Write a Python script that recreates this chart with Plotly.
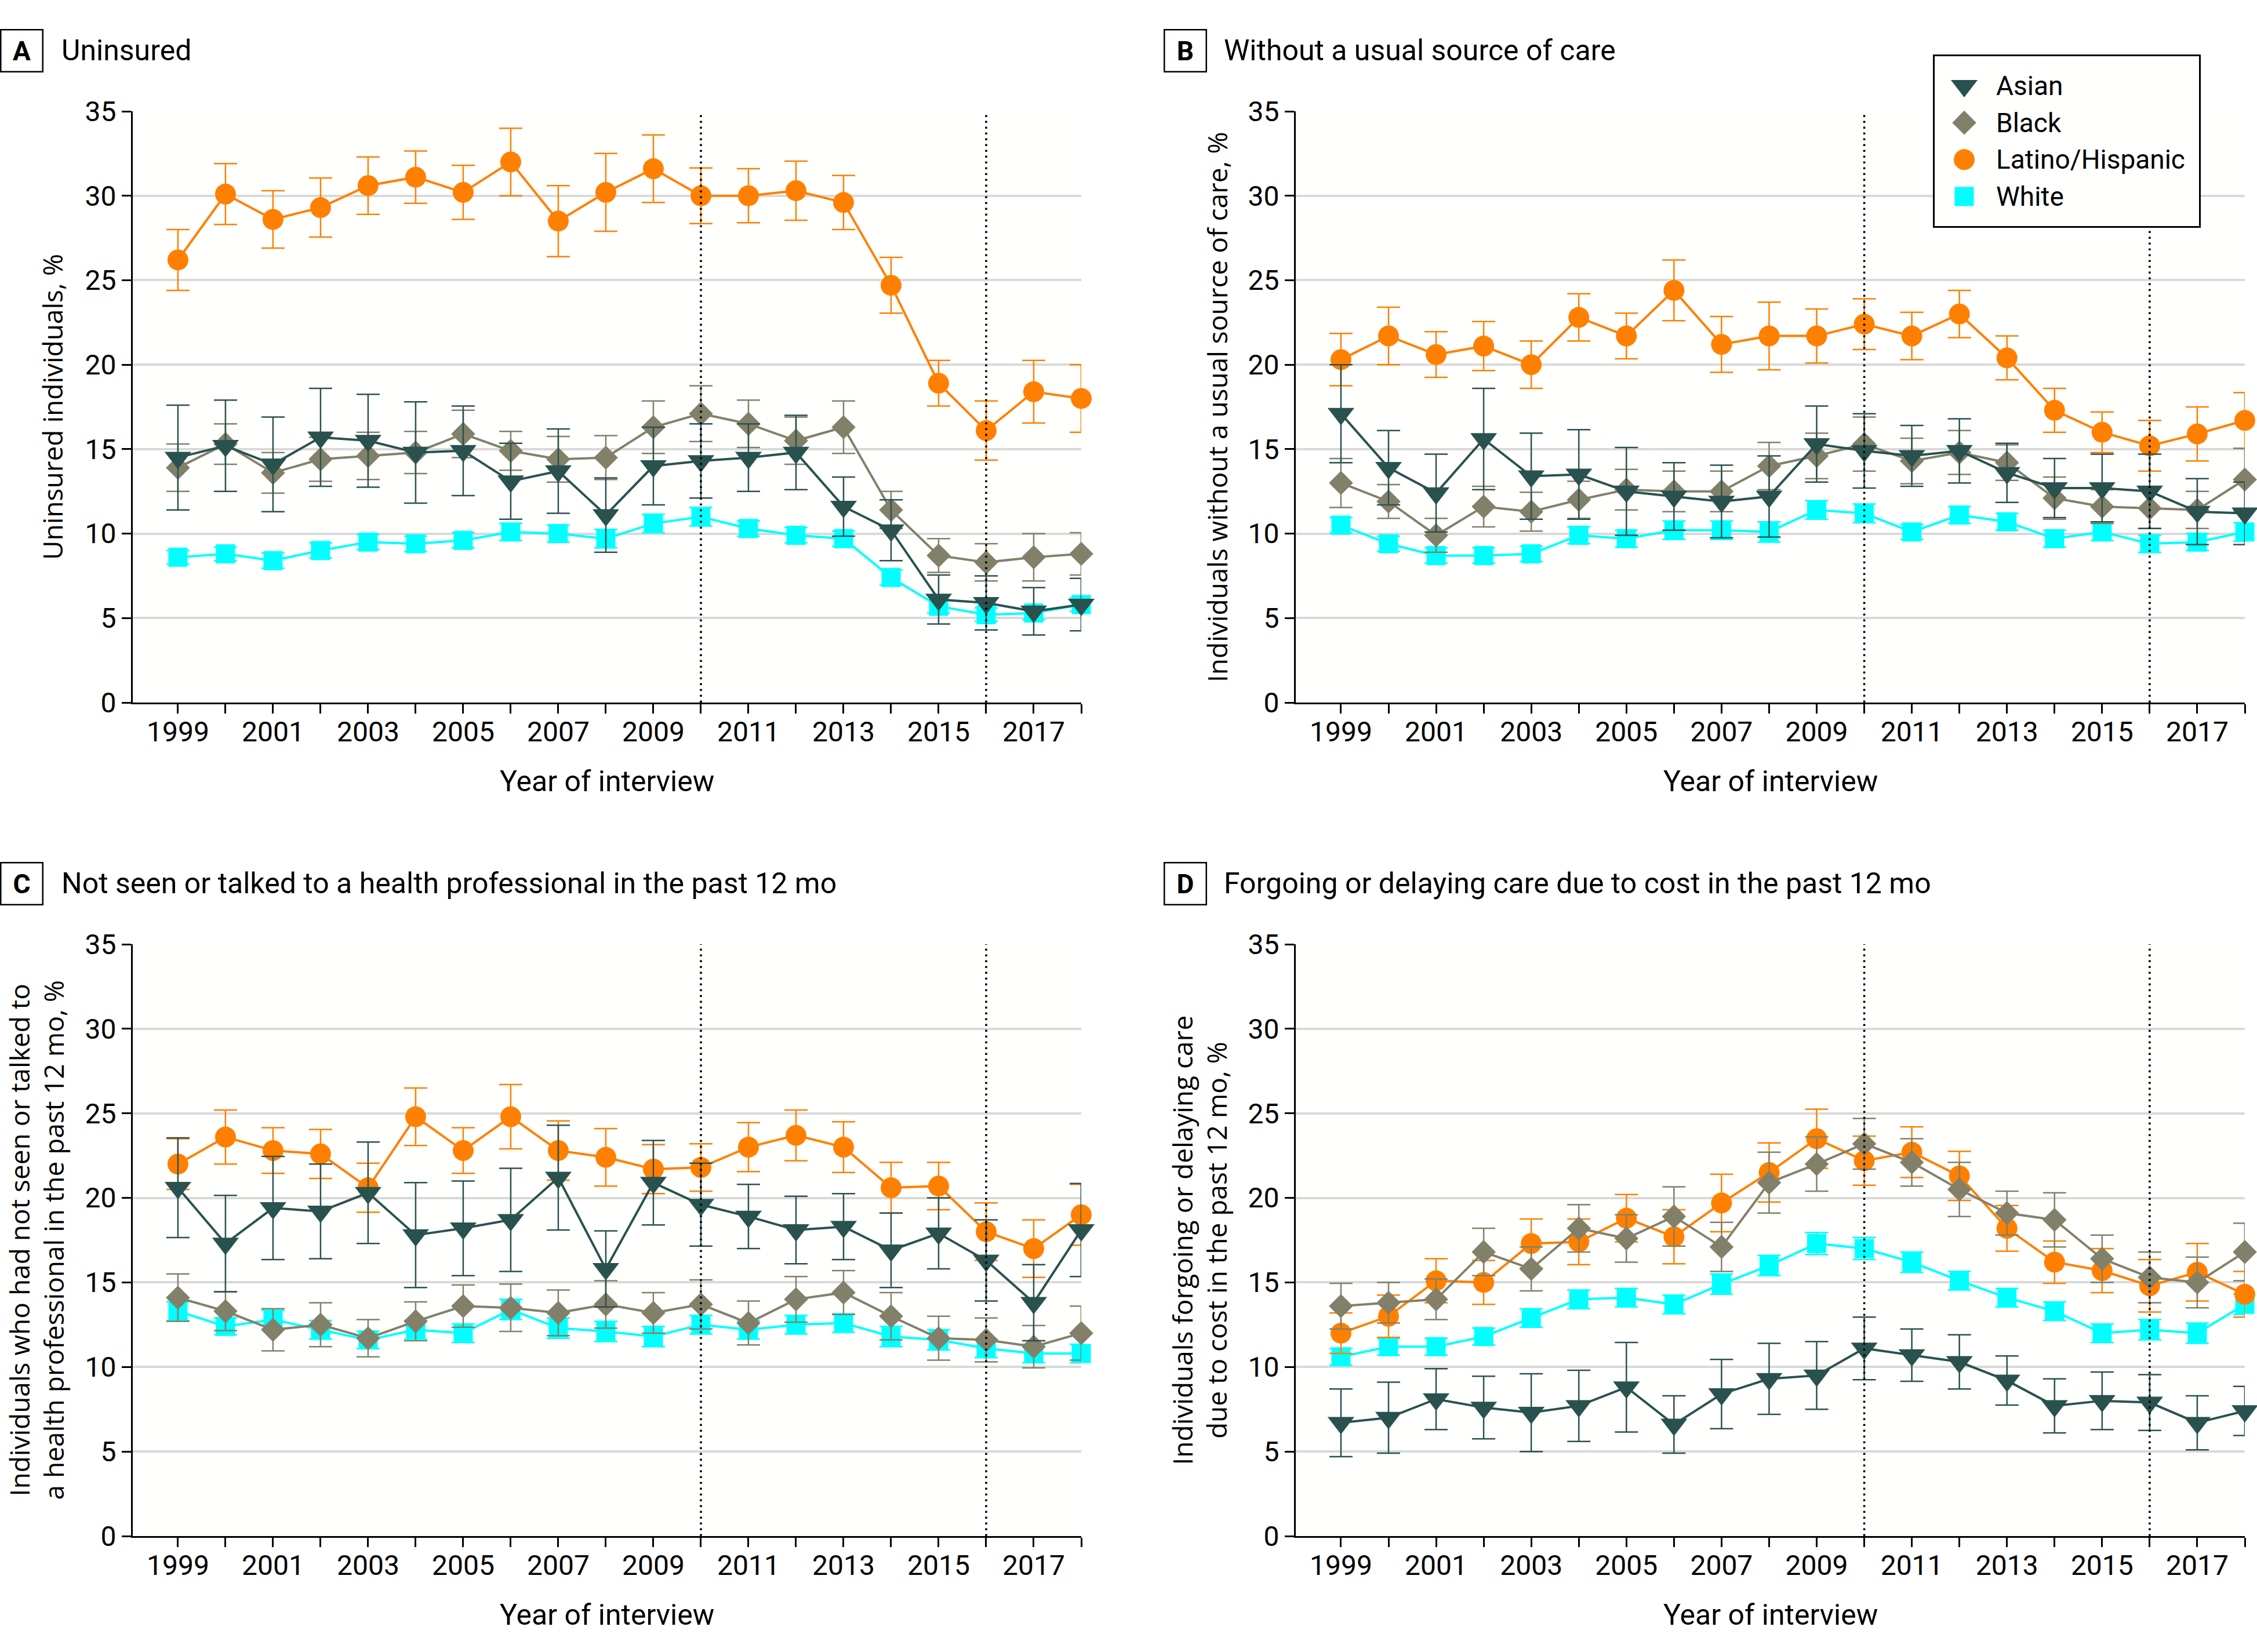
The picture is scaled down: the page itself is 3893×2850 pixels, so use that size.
import plotly.graph_objects as go

W, H = 3893, 2850

years = list(range(1999, 2019))
tick_text = [str(y) if y % 2 == 1 else "" for y in years]
policy_years = [2010, 2016]
groups = ["Asian", "Black", "Latino/Hispanic", "White"]

# Panel A: Uninsured
A_asian = [14.5, 15.2, 14.1, 15.7, 15.5, 14.8, 14.9, 13.1, 13.7, 11.1, 14.0, 14.3, 14.5, 14.8, 11.6, 10.2, 6.1, 5.9, 5.4, 5.8]
A_asian_ci = [3.1, 2.7, 2.8, 2.9, 2.75, 3.0, 2.65, 2.25, 2.5, 2.2, 2.3, 2.2, 2.0, 2.2, 1.75, 1.8, 1.45, 1.6, 1.4, 1.55]
A_black = [13.9, 15.3, 13.6, 14.4, 14.6, 14.8, 15.9, 14.9, 14.4, 14.5, 16.3, 17.1, 16.5, 15.5, 16.3, 11.4, 8.7, 8.3, 8.6, 8.8]
A_black_ci = [1.4, 1.2, 1.2, 1.3, 1.4, 1.25, 1.4, 1.15, 1.35, 1.3, 1.55, 1.65, 1.4, 1.4, 1.55, 1.1, 1.0, 1.1, 1.4, 1.25]
A_latino = [26.2, 30.1, 28.6, 29.3, 30.6, 31.1, 30.2, 32.0, 28.5, 30.2, 31.6, 30.0, 30.0, 30.3, 29.6, 24.7, 18.9, 16.1, 18.4, 18.0]
A_latino_ci = [1.8, 1.8, 1.7, 1.75, 1.7, 1.55, 1.6, 2.0, 2.1, 2.3, 2.0, 1.65, 1.6, 1.75, 1.6, 1.65, 1.35, 1.75, 1.85, 2.0]
A_white = [8.6, 8.8, 8.4, 9.0, 9.5, 9.4, 9.6, 10.1, 10.0, 9.7, 10.6, 11.0, 10.3, 9.9, 9.7, 7.4, 5.7, 5.2, 5.3, 5.8]
A_white_ci = [0.4, 0.4, 0.45, 0.45, 0.45, 0.45, 0.45, 0.5, 0.5, 0.55, 0.55, 0.55, 0.45, 0.45, 0.45, 0.45, 0.4, 0.4, 0.4, 0.4]

# Panel B: Without a usual source of care
B_asian = [17.1, 13.9, 12.4, 15.6, 13.4, 13.5, 12.5, 12.2, 11.9, 12.2, 15.3, 14.9, 14.6, 14.9, 13.6, 12.7, 12.7, 12.5, 11.3, 11.2]
B_asian_ci = [2.9, 2.2, 2.3, 3.0, 2.55, 2.65, 2.6, 2.0, 2.15, 2.4, 2.25, 2.2, 1.8, 1.9, 1.75, 1.75, 2.0, 2.2, 1.95, 1.85]
B_black = [13.0, 11.9, 9.9, 11.6, 11.3, 12.0, 12.6, 12.5, 12.5, 14.0, 14.6, 15.3, 14.3, 14.8, 14.2, 12.1, 11.6, 11.5, 11.4, 13.2]
B_black_ci = [1.45, 1.0, 1.0, 1.2, 1.15, 1.1, 1.2, 1.2, 1.2, 1.4, 1.35, 1.6, 1.35, 1.3, 1.05, 1.25, 1.0, 1.2, 1.1, 1.85]
B_latino = [20.3, 21.7, 20.6, 21.1, 20.0, 22.8, 21.7, 24.4, 21.2, 21.7, 21.7, 22.4, 21.7, 23.0, 20.4, 17.3, 16.0, 15.2, 15.9, 16.7]
B_latino_ci = [1.55, 1.7, 1.35, 1.45, 1.4, 1.4, 1.35, 1.8, 1.65, 2.0, 1.6, 1.5, 1.4, 1.4, 1.3, 1.3, 1.2, 1.5, 1.6, 1.65]
B_white = [10.5, 9.4, 8.7, 8.7, 8.8, 9.9, 9.7, 10.2, 10.2, 10.1, 11.4, 11.2, 10.1, 11.1, 10.7, 9.7, 10.1, 9.4, 9.5, 10.1]
B_white_ci = [0.45, 0.45, 0.45, 0.45, 0.45, 0.5, 0.5, 0.55, 0.55, 0.6, 0.55, 0.55, 0.45, 0.5, 0.5, 0.5, 0.5, 0.5, 0.5, 0.55]

# Panel C: Not seen or talked to a health professional
C_asian = [20.6, 17.3, 19.4, 19.2, 20.3, 17.8, 18.2, 18.7, 21.2, 15.8, 20.9, 19.6, 18.9, 18.1, 18.3, 16.9, 17.9, 16.3, 13.8, 18.1]
C_asian_ci = [2.95, 2.85, 3.05, 2.8, 3.0, 3.1, 2.8, 3.05, 3.1, 2.25, 2.5, 2.45, 1.9, 2.0, 1.95, 2.2, 2.1, 2.4, 2.25, 2.75]
C_black = [14.1, 13.3, 12.2, 12.5, 11.7, 12.7, 13.6, 13.5, 13.2, 13.7, 13.2, 13.7, 12.6, 14.0, 14.4, 13.0, 11.7, 11.6, 11.2, 12.0]
C_black_ci = [1.4, 1.15, 1.25, 1.3, 1.1, 1.15, 1.25, 1.4, 1.35, 1.4, 1.2, 1.45, 1.3, 1.35, 1.3, 1.4, 1.3, 1.3, 1.25, 1.6]
C_latino = [22.0, 23.6, 22.8, 22.6, 20.6, 24.8, 22.8, 24.8, 22.8, 22.4, 21.7, 21.8, 23.0, 23.7, 23.0, 20.6, 20.7, 18.0, 17.0, 19.0]
C_latino_ci = [1.5, 1.6, 1.35, 1.45, 1.45, 1.7, 1.35, 1.9, 1.75, 1.7, 1.45, 1.4, 1.45, 1.5, 1.5, 1.5, 1.4, 1.7, 1.7, 1.8]
C_white = [13.3, 12.4, 12.8, 12.2, 11.6, 12.2, 12.0, 13.4, 12.3, 12.1, 11.8, 12.5, 12.2, 12.5, 12.6, 11.8, 11.6, 11.1, 10.8, 10.8]
C_white_ci = [0.55, 0.5, 0.55, 0.55, 0.5, 0.55, 0.55, 0.6, 0.6, 0.6, 0.6, 0.55, 0.55, 0.55, 0.55, 0.6, 0.6, 0.55, 0.55, 0.55]

# Panel D: Forgoing or delaying care due to cost
D_asian = [6.7, 7.0, 8.1, 7.6, 7.3, 7.7, 8.8, 6.6, 8.4, 9.3, 9.5, 11.1, 10.7, 10.3, 9.2, 7.7, 8.0, 7.9, 6.7, 7.4]
D_asian_ci = [2.0, 2.1, 1.8, 1.85, 2.3, 2.1, 2.65, 1.7, 2.05, 2.1, 2.0, 1.85, 1.55, 1.6, 1.45, 1.6, 1.7, 1.65, 1.6, 1.45]
D_black = [13.6, 13.8, 14.0, 16.8, 15.8, 18.2, 17.6, 18.9, 17.1, 20.9, 22.0, 23.2, 22.1, 20.5, 19.1, 18.7, 16.4, 15.3, 15.0, 16.8]
D_black_ci = [1.35, 1.2, 1.2, 1.4, 1.3, 1.4, 1.4, 1.75, 1.45, 1.8, 1.6, 1.5, 1.4, 1.6, 1.3, 1.6, 1.4, 1.5, 1.5, 1.7]
D_latino = [12.0, 13.0, 15.1, 15.0, 17.3, 17.4, 18.8, 17.7, 19.7, 21.5, 23.5, 22.2, 22.7, 21.3, 18.2, 16.2, 15.7, 14.8, 15.6, 14.3]
D_latino_ci = [1.2, 1.25, 1.3, 1.3, 1.45, 1.35, 1.4, 1.6, 1.7, 1.75, 1.75, 1.45, 1.5, 1.45, 1.35, 1.25, 1.3, 1.55, 1.7, 1.35]
D_white = [10.6, 11.2, 11.2, 11.8, 12.9, 14.0, 14.1, 13.7, 14.9, 16.0, 17.3, 17.0, 16.2, 15.1, 14.1, 13.3, 12.0, 12.2, 12.0, 13.7]
D_white_ci = [0.5, 0.5, 0.5, 0.5, 0.55, 0.55, 0.55, 0.55, 0.6, 0.6, 0.65, 0.65, 0.6, 0.55, 0.55, 0.55, 0.55, 0.6, 0.6, 0.6]

panel_letters = ["A", "B", "C", "D"]
panel_titles = [
    "Uninsured",
    "Without a usual source of care",
    "Not seen or talked to a health professional in the past 12 mo",
    "Forgoing or delaying care due to cost in the past 12 mo",
]
y_titles = [
    "Uninsured individuals, %",
    "Individuals without a usual source of care, %",
    "Individuals who had not seen or talked to<br>a health professional in the past 12 mo, %",
    "Individuals forgoing or delaying care<br>due to cost in the past 12 mo, %",
]
x_title = "Year of interview"

panel_data = [
    {"Asian": (A_asian, A_asian_ci), "Black": (A_black, A_black_ci),
     "Latino/Hispanic": (A_latino, A_latino_ci), "White": (A_white, A_white_ci)},
    {"Asian": (B_asian, B_asian_ci), "Black": (B_black, B_black_ci),
     "Latino/Hispanic": (B_latino, B_latino_ci), "White": (B_white, B_white_ci)},
    {"Asian": (C_asian, C_asian_ci), "Black": (C_black, C_black_ci),
     "Latino/Hispanic": (C_latino, C_latino_ci), "White": (C_white, C_white_ci)},
    {"Asian": (D_asian, D_asian_ci), "Black": (D_black, D_black_ci),
     "Latino/Hispanic": (D_latino, D_latino_ci), "White": (D_white, D_white_ci)},
]

# ---- styles ----
COLORS = {"Asian": "#29524f", "Black": "#838069", "Latino/Hispanic": "#ff8000", "White": "#00ffff"}
SYMBOLS = {"Asian": "triangle-down", "Black": "diamond", "Latino/Hispanic": "circle", "White": "square"}
SIZES = {"Asian": 40, "Black": 32, "Latino/Hispanic": 36, "White": 33}
DRAW_ORDER = ["White", "Latino/Hispanic", "Black", "Asian"]

TXT = "Roboto, Liberation Sans, sans-serif"
WIDE = "Open Sans, Noto Sans, sans-serif"

def px_x(p):
    return p / W

def px_y(p):
    return 1 - p / H

x_domains = [[px_x(229), px_x(1865)], [px_x(2235), px_x(3872)]]
y_domains = [[px_y(1212), px_y(192)], [px_y(2650), px_y(1629)]]
panel_pos = [(0, 0), (1, 0), (0, 1), (1, 1)]  # (col,row)

fig = go.Figure()

for i in range(4):
    n = i + 1
    xa = "x" if n == 1 else f"x{n}"
    ya = "y" if n == 1 else f"y{n}"
    for g in DRAW_ORDER:
        vals, ci = panel_data[i][g]
        fig.add_trace(go.Scatter(
            x=years, y=vals, xaxis=xa, yaxis=ya, mode="lines+markers",
            name=g, showlegend=False, cliponaxis=False,
            line=dict(color=COLORS[g], width=4),
            marker=dict(symbol=SYMBOLS[g], size=SIZES[g], color=COLORS[g], line=dict(width=0)),
            error_y=dict(type="data", array=ci, visible=True, color=COLORS[g], thickness=2.5, width=20),
        ))
    # policy reference lines (dotted)
    for yr in policy_years:
        fig.add_trace(go.Scatter(
            x=[yr, yr], y=[0, 35], xaxis=xa, yaxis=ya, mode="lines", showlegend=False,
            hoverinfo="skip", line=dict(color="black", width=3.5, dash="3.5px,6.5px"),
        ))

axis_common = dict(showline=True, linecolor="black", linewidth=3, ticks="outside",
                   ticklen=16, tickwidth=3, tickcolor="black", zeroline=False,
                   automargin=False,
                   tickfont=dict(family=TXT, size=48, color="black"))

layout = dict(
    width=W, height=H, margin=dict(l=0, r=0, t=0, b=0, pad=0, autoexpand=False),
    paper_bgcolor="#ffffff", plot_bgcolor="#fffffe", showlegend=False,
    template="none",
)

annotations = []
for i in range(4):
    n = i + 1
    col, row = panel_pos[i]
    xk = "xaxis" if n == 1 else f"xaxis{n}"
    yk = "yaxis" if n == 1 else f"yaxis{n}"
    layout[xk] = dict(axis_common, domain=x_domains[col], range=[1998.05, 2018],
                      tickmode="array", tickvals=years, ticktext=tick_text,
                      ticklabelstandoff=-10,
                      showgrid=False, anchor="y" if n == 1 else f"y{n}")
    layout[yk] = dict(axis_common, domain=y_domains[row], range=[0, 35], dtick=5,
                      tickmode="linear", tick0=0,
                      showgrid=True, gridcolor="#d9d9d9", gridwidth=4,
                      anchor="x" if n == 1 else f"x{n}")

    left_px = 229 if col == 0 else 2235
    right_px = 1865 if col == 0 else 3872
    top_px = 192 if row == 0 else 1629
    bot_px = 1212 if row == 0 else 2650
    box_cx = 37.5 if col == 0 else 2044.5
    title_x = 104 if col == 0 else 2109
    title_cy = 87 if row == 0 else 1524

    # panel letter box
    annotations.append(dict(
        x=px_x(box_cx), y=px_y(title_cy), xref="paper", yref="paper", showarrow=False,
        text=f"<b>{panel_letters[i]}</b>", font=dict(family=TXT, size=46, color="black"),
        bordercolor="black", borderwidth=2.5, borderpad=0, width=70, height=70,
        xanchor="center", yanchor="middle", align="center", valign="middle",
    ))
    # panel title
    annotations.append(dict(
        x=px_x(title_x), y=px_y(title_cy), xref="paper", yref="paper", showarrow=False,
        text=panel_titles[i], font=dict(family=TXT, size=50, color="black"),
        xanchor="left", yanchor="middle",
    ))
    # x axis title
    annotations.append(dict(
        x=px_x((left_px + right_px) / 2), y=px_y(bot_px + 136), xref="paper", yref="paper",
        showarrow=False, text=x_title, font=dict(family=TXT, size=50, color="black"),
        xanchor="center", yanchor="middle",
    ))
    # y axis title
    ytx = {0: 90, 1: 2099, 2: 62, 3: 2068}[i]
    annotations.append(dict(
        x=px_x(ytx), y=px_y((top_px + bot_px) / 2), xref="paper", yref="paper",
        showarrow=False, text=y_titles[i], textangle=-90,
        font=dict(family=WIDE, size=46, color="black"),
        xanchor="center", yanchor="middle", align="center",
    ))

# ---- legend (drawn as its own small subplot so markers keep their size) ----
leg_left, leg_right, leg_top, leg_bot = 3337, 3793, 97, 390
leg_rows = [0, 1, 2, 3]
for g, r in zip(groups, leg_rows):
    fig.add_trace(go.Scatter(
        x=[51], y=[r], xaxis="x5", yaxis="y5", mode="markers", showlegend=False,
        marker=dict(symbol=SYMBOLS[g], size=SIZES[g], color=COLORS[g], line=dict(width=0)),
        cliponaxis=False,
    ))
    annotations.append(dict(
        x=104, y=r, xref="x5", yref="y5", showarrow=False, text=g,
        font=dict(family=TXT, size=46, color="black"), xanchor="left", yanchor="middle",
    ))

layout["xaxis5"] = dict(domain=[px_x(leg_left), px_x(leg_right)], range=[0, leg_right - leg_left],
                        showline=True, mirror=True, linecolor="black", linewidth=3, automargin=False,
                        showgrid=False, zeroline=False, showticklabels=False, ticks="", anchor="y5")
layout["yaxis5"] = dict(domain=[px_y(leg_bot), px_y(leg_top)], range=[3.8, -0.8],
                        showline=True, mirror=True, linecolor="black", linewidth=3, automargin=False,
                        showgrid=False, zeroline=False, showticklabels=False, ticks="", anchor="x5")

layout["annotations"] = annotations
fig.update_layout(**layout)

fig.write_html(
    "out.html",
    config={"displayModeBar": False},
    post_script="document.body.style.margin='0px';document.body.style.overflow='hidden';",
)
